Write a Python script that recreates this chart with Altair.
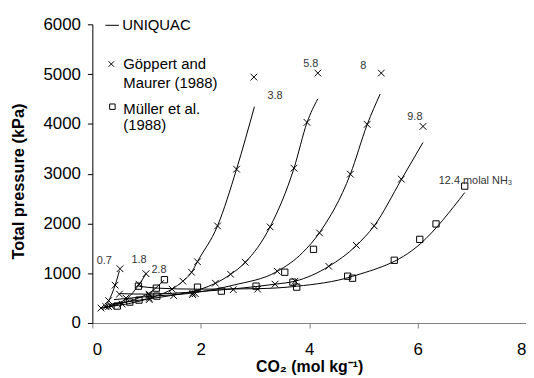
import altair as alt
import pandas as pd

FONT = "Liberation Sans"

# ---------------- UNIQUAC curves (one per NH3 molality) ----------------
c07_x = [0.16, 0.25, 0.33, 0.42, 0.50]
c07_y = [290, 360, 510, 760, 1050]
c18_x = [0.18, 0.45, 0.65, 0.84, 0.99]
c18_y = [300, 390, 500, 740, 990]
c28_x = [0.22, 0.55, 0.85, 1.10, 1.32]
c28_y = [305, 400, 500, 640, 860]
c38_x = [0.25, 0.80, 1.20, 1.47, 1.67, 1.83, 1.94, 2.31, 2.66, 2.99]
c38_y = [320, 420, 550, 680, 840, 1017, 1236, 1953, 3090, 4345]
c58_x = [0.30, 1.00, 1.50, 2.00, 2.27, 2.55, 2.82, 3.28, 3.72, 3.96, 4.16]
c58_y = [370, 480, 560, 680, 797, 977, 1216, 1933, 3110, 4026, 4505]
c8_x = [0.40, 1.00, 1.90, 2.60, 3.41, 3.88, 4.19, 4.76, 5.07, 5.31]
c8_y = [470, 530, 610, 760, 1036, 1415, 1814, 2990, 3986, 4600]
c98_x = [0.50, 1.00, 1.95, 3.37, 3.74, 4.36, 4.87, 5.20, 5.70, 6.10]
c98_y = [590, 580, 630, 780, 840, 1136, 1555, 1953, 2880, 3627]
c124_x = [0.85, 1.20, 1.95, 3.06, 3.77, 4.80, 6.05, 6.87]
c124_y = [740, 700, 680, 690, 738, 937, 1590, 2620]

curve_names = ["0.7", "1.8", "2.8", "3.8", "5.8", "8", "9.8", "12.4"]
curve_xs = [c07_x, c18_x, c28_x, c38_x, c58_x, c8_x, c98_x, c124_x]
curve_ys = [c07_y, c18_y, c28_y, c38_y, c58_y, c8_y, c98_y, c124_y]

# ---------------- Göppert and Maurer (1988) data (crosses) ----------------
gm_x = [0.16, 0.25, 0.30, 0.42, 0.51,
        0.30, 0.62, 0.86, 0.99,
        0.35, 1.05,
        0.55, 1.05, 1.47, 1.67, 1.83, 1.94, 2.31, 2.66, 2.98,
        1.05, 1.50, 1.85, 2.27, 2.55, 2.82, 3.28, 3.72, 3.96, 4.16,
        1.90, 2.60, 3.41, 4.19, 4.76, 5.07, 5.33,
        0.50, 1.05, 1.85, 3.05, 3.37, 3.74, 4.36, 4.87, 5.20, 5.70, 6.10]
gm_y = [300, 330, 450, 760, 1090,
        330, 500, 780, 990,
        340, 580,
        380, 500, 680, 840, 1020, 1230, 1950, 3090, 4940,
        470, 550, 570, 800, 980, 1220, 1930, 3110, 4030, 5020,
        590, 670, 1040, 1810, 2990, 3990, 5020,
        580, 560, 600, 680, 780, 840, 1140, 1560, 1950, 2890, 3950]

# ---------------- Müller et al. (1988) data (squares) ----------------
mu_x = [0.46, 0.69, 0.86, 1.19, 0.85, 1.18, 1.33, 1.94, 2.38, 3.02,
        3.55, 4.08, 3.70, 3.77, 4.71, 4.80, 5.57, 6.04, 6.34, 6.87]
mu_y = [340, 420, 460, 540, 740, 700, 870, 720, 640, 740,
        1020, 1480, 820, 720, 940, 900, 1260, 1680, 1990, 2750]

# ---------------- curve labels ----------------
lab_text = ["0.7", "1.8", "2.8", "3.8", "5.8", "8", "9.8"]
lab_x = [0.22, 0.86, 1.23, 3.37, 4.03, 5.00, 5.95]
lab_y = [1236, 1256, 1056, 4565, 5202, 5162, 4146]
nh3_text = ["12.4 molal NH\u2083"]
nh3_x = [6.39]
nh3_y = [2850]

# ---------------- legend ----------------
leg_line_x = [0.24]
leg_line_x2 = [0.49]
leg_line_y = [5980]
leg_text = ["UNIQUAC", "G\u00f6ppert and", "Maurer (1988)", "M\u00fcller et al.", "(1988)"]
leg_text_x = [0.55, 0.57, 0.57, 0.57, 0.57]
leg_text_y = [5980, 5202, 4824, 4305, 3986]

rows = []
for name, xs, ys in zip(curve_names, curve_xs, curve_ys):
    for i, (xv, yv) in enumerate(zip(xs, ys)):
        rows.append({"curve": name, "x": xv, "y": yv, "o": i})
lines_df = pd.DataFrame(rows)
gm_df = pd.DataFrame({"x": gm_x, "y": gm_y})
mu_df = pd.DataFrame({"x": mu_x, "y": mu_y})
lab_df = pd.DataFrame({"x": lab_x, "y": lab_y, "t": lab_text})
nh3_df = pd.DataFrame({"x": nh3_x, "y": nh3_y, "t": nh3_text})
leg_line_df = pd.DataFrame({"x": leg_line_x, "x2": leg_line_x2, "y": leg_line_y})
leg_text_df = pd.DataFrame({"x": leg_text_x, "y": leg_text_y, "t": leg_text})
leg_gm_df = pd.DataFrame({"x": [0.35], "y": [5202]})
leg_mu_df = pd.DataFrame({"x": [0.37], "y": [4345]})

xscale = alt.Scale(domain=[0, 8], nice=False, zero=False)
yscale = alt.Scale(domain=[0, 6000], nice=False)

xenc = alt.X("x:Q", scale=xscale, axis=alt.Axis(
    title="CO\u2082 (mol kg\u207b\u00b9)", values=[0, 2, 4, 6, 8], format="d",
    domainColor="#808080", tickColor="#808080", tickSize=5, labelPadding=14,
    titlePadding=1, grid=False,
    labelFont=FONT, labelFontSize=17, labelColor="black",
    titleFont=FONT, titleFontSize=16, titleFontWeight="bold", titleColor="black"))
yenc = alt.Y("y:Q", scale=yscale, axis=alt.Axis(
    title="Total pressure (kPa)", values=[0, 1000, 2000, 3000, 4000, 5000, 6000],
    format="d", domainColor="black", tickColor="black", tickSize=5,
    labelPadding=7, titleX=-66, titleY=158, grid=False,
    labelFont=FONT, labelFontSize=17, labelColor="black",
    titleFont=FONT, titleFontSize=16.5, titleFontWeight="bold", titleColor="black"))

cross = "M-1,-1L1,1M1,-1L-1,1"

lines = alt.Chart(lines_df).mark_line(color="black", strokeWidth=1, interpolate="monotone").encode(
    x=xenc, y=yenc, detail="curve:N", order="o:Q")
gm_pts = alt.Chart(gm_df).mark_point(shape=cross, size=45, color="black", strokeWidth=1, filled=False, opacity=1).encode(
    x="x:Q", y="y:Q")
mu_pts = alt.Chart(mu_df).mark_point(shape="square", size=40, color="black", strokeWidth=1, filled=False, opacity=1).encode(
    x="x:Q", y="y:Q")
labs = alt.Chart(lab_df).mark_text(font=FONT, fontSize=11, color="#333333").encode(
    x="x:Q", y="y:Q", text="t:N")
nh3 = alt.Chart(nh3_df).mark_text(font=FONT, fontSize=11, color="#333333", align="left").encode(
    x="x:Q", y="y:Q", text="t:N")
leg_line = alt.Chart(leg_line_df).mark_rule(color="black", strokeWidth=1).encode(
    x="x:Q", x2="x2:Q", y="y:Q")
leg_text_m = alt.Chart(leg_text_df).mark_text(font=FONT, fontSize=15, color="black", align="left", baseline="middle").encode(
    x="x:Q", y="y:Q", text="t:N")
leg_gm = alt.Chart(leg_gm_df).mark_point(shape=cross, size=30, color="black", strokeWidth=1, filled=False, opacity=1).encode(
    x="x:Q", y="y:Q")
leg_mu = alt.Chart(leg_mu_df).mark_point(shape="square", size=30, color="black", strokeWidth=1, filled=False, opacity=1).encode(
    x="x:Q", y="y:Q")

chart = alt.layer(lines, gm_pts, mu_pts, labs, nh3, leg_line, leg_text_m, leg_gm, leg_mu).properties(
    width=437, height=301,
    autosize=alt.AutoSizeParams(type="none"),
    padding={"left": 85, "top": 15, "right": 0, "bottom": 55},
    background="white",
).configure_view(stroke=None)

chart.save("out.html", embed_options={"renderer": "svg", "actions": False})
